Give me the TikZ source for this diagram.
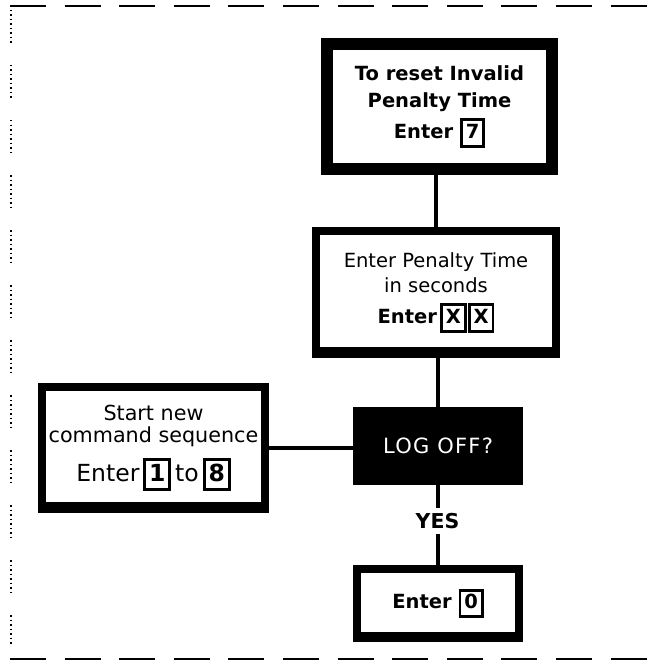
\documentclass[tikz,border=0pt]{standalone}
\usepackage{fontspec}
\setmainfont{DejaVu Sans}
\usetikzlibrary{calc}
\newcommand\kbx[1]{{\setlength\fboxsep{3pt}\setlength\fboxrule{2.8pt}\fbox{\rule[-3.5pt]{0pt}{17pt}#1}}}
\begin{document}
\begin{tikzpicture}[x=1pt,y=-1pt,
  heavybox/.style={draw, line width=12pt, fill=white, inner sep=0pt, align=center},
  framebox/.style={draw, line width=8pt, fill=white, inner sep=0pt, align=center},
  darkbox/.style={fill=black, text=white, inner sep=0pt},
  conn/.style={line width=3.5pt},
  bfont/.style={font=\bfseries\fontsize{19.5}{27}\selectfont},
  border/.style={line width=2.5pt, dash pattern=on 36pt off 18.6pt}]
\fill[white] (0,0) rectangle (651,666);
\useasboundingbox (0,0) rectangle (651,666);
% frame
\draw[border] (10,6) -- (651,6);
\draw[border] (10,659) -- (651,659);
\draw[line width=1.6pt, dash pattern=on 1.5pt off 3pt on 1.5pt off 3pt on 1.5pt off 3pt on 1.5pt off 3pt on 1.5pt off 3pt on 1.5pt off 3pt on 1.5pt off 3pt on 1.5pt off 22pt] (11,10) -- (11,645);
% boxes
\node[heavybox, minimum width=225pt, minimum height=125pt, bfont] (b1) at (439.5,106.5)
  {To reset Invalid\\Penalty Time\\[4pt]Enter \kbx{7}};
\node[framebox, minimum width=240pt, minimum height=123pt, font=\fontsize{19.5}{25}\selectfont] (b2) at (436,292.5)
  {Enter Penalty Time\\in seconds\\[6pt]\bfseries Enter\,\kbx{X}\kern1pt\kbx{X}};
\node[framebox, minimum width=223pt, minimum height=122pt, font=\fontsize{20.7}{22}\selectfont] (lb) at (153.5,448)
  {Start new\\command sequence\\[10pt]\fontsize{23.5}{25}\selectfont Enter\,\kbx{\bfseries 1}\,to\,\kbx{\bfseries 8}};
\node[darkbox, minimum width=170pt, minimum height=78pt, font=\fontsize{21}{25}\selectfont\addfontfeature{LetterSpace=6}] (lo) at (438,446) {LOG OFF?};
\node[font=\bfseries\fontsize{20.5}{24}\selectfont, inner sep=5pt] (yes) at (437.5,521) {YES};
\node[framebox, minimum width=162pt, minimum height=69pt, bfont] (e0) at (438,603.5) {Enter \kbx{0}};
% thicker bottom edges
\fill ($(b2.south west)+(0,-11)$) rectangle (b2.south east);
\fill ($(lb.south west)+(0,-11)$) rectangle (lb.south east);
\fill ($(e0.south west)+(0,-10)$) rectangle (e0.south east);
% connectors
\draw[conn] (b2.north |- b1.south) -- (b2.north);
\draw[conn] (b2.south -| lo.north) -- (lo.north);
\draw[conn] (lb.east) -- (lb.east -| lo.west);
\draw[conn] (lo.south) -- (lo.south |- yes.north);
\draw[conn] (yes.south -| e0.north) -- (e0.north);
\end{tikzpicture}
\end{document}
